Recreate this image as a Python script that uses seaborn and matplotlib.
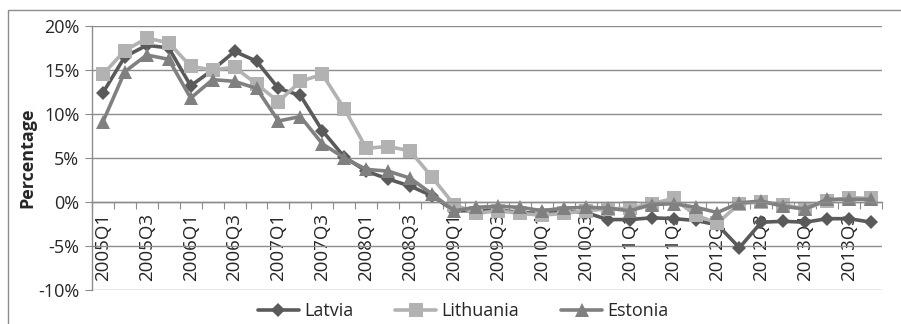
import matplotlib
matplotlib.use("Agg")
import matplotlib.pyplot as plt
import numpy as np
import pandas as pd
import seaborn as sns
from matplotlib.patches import Rectangle
from matplotlib.ticker import FixedLocator, NullFormatter, FixedFormatter

quarters = [f"{y}Q{q}" for y in range(2005, 2014) for q in range(1, 5)]

latvia = [12.4, 16.5, 17.8, 17.5, 13.2, 15.0, 17.1, 16.0, 12.9, 12.1, 8.1, 5.1,
          3.5, 2.6, 1.8, 0.7, -1.0, -1.0, -0.9, -1.2, -1.3, -1.0, -1.2, -2.0,
          -2.0, -1.8, -1.9, -2.1, -2.6, -5.2, -2.3, -2.2, -2.3, -1.9, -1.9, -2.3]
lithuania = [14.5, 17.2, 18.6, 18.1, 15.4, 15.0, 15.3, 13.4, 11.4, 13.7, 14.5, 10.6,
             6.1, 6.3, 5.8, 2.8, -0.3, -1.3, -1.0, -1.3, -1.5, -1.3, -1.0, -0.8,
             -0.7, -0.2, 0.4, -1.5, -2.4, -0.2, 0.0, -0.3, -0.8, 0.1, 0.5, 0.4]
estonia = [9.1, 14.8, 16.7, 16.2, 11.8, 13.9, 13.7, 12.9, 9.2, 9.7, 6.6, 5.0,
           3.7, 3.5, 2.7, 0.9, -1.0, -0.6, -0.5, -0.6, -1.0, -0.7, -0.6, -0.7,
           -1.0, -0.3, -0.2, -0.6, -1.2, -0.1, 0.1, -0.5, -0.8, 0.3, 0.3, 0.3]

series = {"Latvia": latvia, "Lithuania": lithuania, "Estonia": estonia}
styles = {
    "Latvia": dict(color="#5a5a5a", marker="D", markersize=7.5),
    "Lithuania": dict(color="#b2b2b2", marker="s", markersize=9.5),
    "Estonia": dict(color="#808080", marker="^", markersize=10.5),
}

sns.set_style("white")
plt.rcParams["font.family"] = ["Open Sans", "DejaVu Sans"]
plt.rcParams["font.size"] = 11

fig = plt.figure(figsize=(9.01, 3.24), dpi=100)
ax = fig.add_axes([0.102, 0.105, 0.877, 0.815])

x = np.arange(len(quarters))
for name, vals in series.items():
    st = styles[name]
    sns.lineplot(x=x, y=vals, ax=ax, color=st["color"], marker=st["marker"],
                 markersize=st["markersize"], markeredgewidth=0, linewidth=2.6,
                 label=name)

ax.set_xlim(-0.5, len(quarters) - 0.5)
ax.set_ylim(-10, 20)
ax.set_yticks(np.arange(-10, 21, 5))
ax.set_yticklabels([f"{v}%" for v in range(-10, 21, 5)], fontsize=13)
ax.yaxis.grid(True, color="#8c8c8c", linewidth=1)
ax.set_axisbelow(True)

# x axis sits on the zero line, ticks between categories
ax.spines["bottom"].set_position(("data", 0))
for s in ["top", "right"]:
    ax.spines[s].set_visible(False)
for s in ["left", "bottom"]:
    ax.spines[s].set_color("#8c8c8c")
    ax.spines[s].set_linewidth(1)

ax.xaxis.set_major_locator(FixedLocator(np.arange(-0.5, len(quarters), 1)))
ax.xaxis.set_major_formatter(NullFormatter())
ax.xaxis.set_minor_locator(FixedLocator(x[::2]))
ax.xaxis.set_minor_formatter(FixedFormatter(quarters[::2]))
ax.tick_params(axis="x", which="major", direction="out", length=5,
               color="#8c8c8c", bottom=True)
ax.tick_params(axis="x", which="minor", length=0, pad=8, labelsize=13.5,
               labelrotation=90)
ax.tick_params(axis="y", direction="out", length=5, color="#8c8c8c", left=True,
               pad=4)

ax.set_ylabel("Percentage", fontsize=13, fontweight="bold", labelpad=1)
ax.set_xlabel("")

ax.legend(loc="center", bbox_to_anchor=(0.514, 0.04), ncol=3, frameon=False,
          bbox_transform=fig.transFigure, handlelength=2.3, columnspacing=2.3,
          handletextpad=0.28, fontsize=13)

fig.add_artist(Rectangle((8 / 901, -0.1), 1.1, 0.969 + 0.1,
                         transform=fig.transFigure, fill=False,
                         edgecolor="#8c8c8c", linewidth=1))

fig.savefig("out.png", dpi=100)
